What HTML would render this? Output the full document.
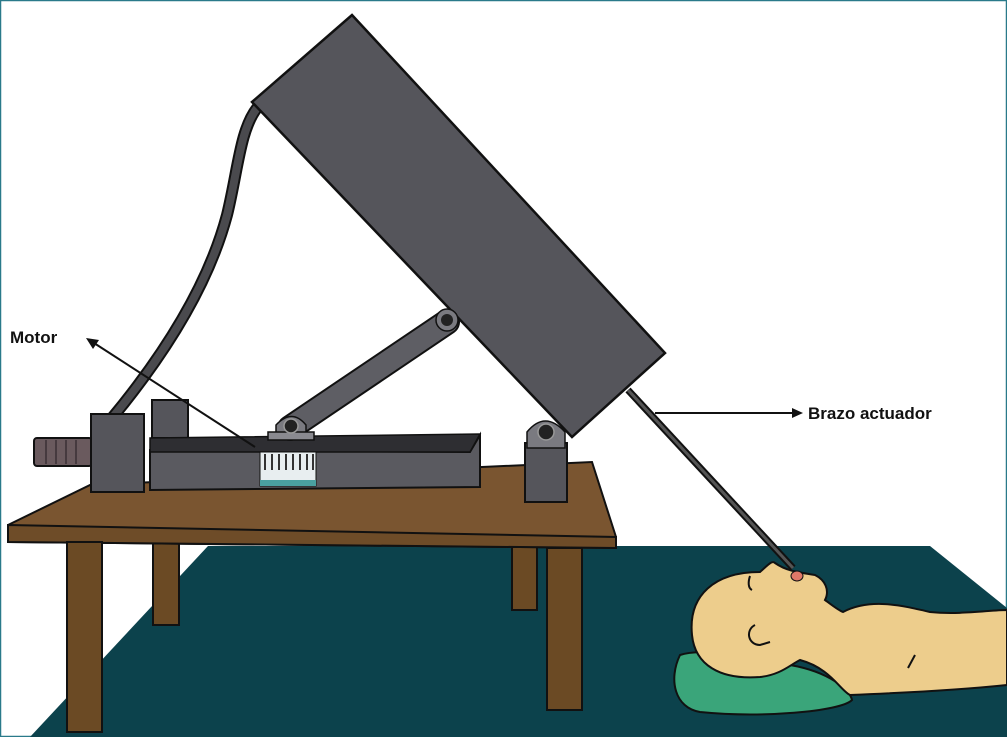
<!DOCTYPE html>
<html><head><meta charset="utf-8"><style>
html,body{margin:0;padding:0;background:#fff;}
svg{display:block;}
</style></head><body>
<svg width="1007" height="737" viewBox="0 0 1007 737" xmlns="http://www.w3.org/2000/svg">
<rect x="0.5" y="0.5" width="1006" height="736" fill="#fff" stroke="#2a7a8a" stroke-width="1.5"/>
<!-- floor -->
<polygon points="208,546 930,546 1007,608 1007,737 30,737" fill="#0c424c"/>
<!-- back legs -->
<rect x="153" y="535" width="26" height="90" fill="#6b4a24" stroke="#111" stroke-width="2"/>
<rect x="512" y="535" width="25" height="75" fill="#6b4a24" stroke="#111" stroke-width="2"/>
<!-- table top -->
<polygon points="8,525 90,485 592,462 616,537 616,548 8,542" fill="#7a5530" stroke="#111" stroke-width="2"/>
<polygon points="8,525 616,537 616,548 8,542" fill="#6e4c28" stroke="#111" stroke-width="2"/>
<!-- front legs -->
<rect x="67" y="542" width="35" height="190" fill="#6b4a24" stroke="#111" stroke-width="2"/>
<rect x="547" y="548" width="35" height="162" fill="#6b4a24" stroke="#111" stroke-width="2"/>
<!-- cable -->
<path d="M257,108 C240,130 238,170 227,215 C207,290 160,360 112,418" fill="none" stroke="#111" stroke-width="12" stroke-linecap="round"/>
<path d="M257,108 C240,130 238,170 227,215 C207,290 160,360 112,418" fill="none" stroke="#4a4a4e" stroke-width="8" stroke-linecap="round"/>
<!-- rod -->
<line x1="628" y1="390" x2="793" y2="568" stroke="#111" stroke-width="7"/>
<line x1="628" y1="390" x2="793" y2="568" stroke="#555" stroke-width="3"/>
<!-- cylinder -->
<rect x="34" y="438" width="58" height="28" rx="3" fill="#6a5a5e" stroke="#111" stroke-width="2"/>
<g stroke="#3a3035" stroke-width="1.5"><line x1="46" y1="440" x2="46" y2="464"/><line x1="56" y1="440" x2="56" y2="464"/><line x1="66" y1="440" x2="66" y2="464"/><line x1="76" y1="440" x2="76" y2="464"/></g>
<!-- small box -->
<rect x="152" y="400" width="36" height="38" fill="#55555b" stroke="#111" stroke-width="2"/>
<!-- rail -->
<polygon points="150,450 470,452 480,435 480,487 150,490" fill="#5a5a60" stroke="#111" stroke-width="2"/>
<polygon points="150,438 480,434 470,452 150,452" fill="#2e2e32" stroke="#111" stroke-width="1.5"/>
<!-- left block -->
<rect x="91" y="414" width="53" height="78" fill="#55555b" stroke="#111" stroke-width="2"/>
<!-- gear -->
<rect x="260" y="452" width="56" height="34" fill="#e8eef0" stroke="#111" stroke-width="1"/>
<g stroke="#333" stroke-width="2"><line x1="265" y1="454" x2="265" y2="470"/><line x1="272" y1="454" x2="272" y2="470"/><line x1="279" y1="454" x2="279" y2="470"/><line x1="286" y1="454" x2="286" y2="470"/><line x1="293" y1="454" x2="293" y2="470"/><line x1="300" y1="454" x2="300" y2="470"/><line x1="307" y1="454" x2="307" y2="470"/><line x1="313" y1="454" x2="313" y2="470"/></g>
<rect x="260" y="480" width="56" height="6" fill="#4aa0a0"/>
<!-- linkage -->
<line x1="290" y1="428" x2="447" y2="322" stroke="#111" stroke-width="26" stroke-linecap="round"/>
<line x1="290" y1="428" x2="447" y2="322" stroke="#5e5e64" stroke-width="22" stroke-linecap="round"/>
<path d="M276,438 L276,425 Q292,408 306,425 L306,438 Z" fill="#7a7a80" stroke="#111" stroke-width="1.5"/>
<rect x="268" y="432" width="46" height="8" fill="#8a8a90" stroke="#111" stroke-width="1.5"/>
<circle cx="291" cy="426" r="7" fill="#222" stroke="#999" stroke-width="1.5"/>
<!-- post -->
<rect x="525" y="443" width="42" height="59" fill="#55555b" stroke="#111" stroke-width="2"/>
<!-- big box -->
<polygon points="252,102 352,15 665,353 572,437" fill="#55555b" stroke="#111" stroke-width="2.5"/>
<circle cx="447" cy="320" r="11" fill="#7a7a80" stroke="#111" stroke-width="1.5"/>
<circle cx="447" cy="320" r="6" fill="#222"/>
<path d="M527,448 L527,432 Q545,410 565,432 L565,448 Z" fill="#7a7a80" stroke="#111" stroke-width="1.5"/>
<circle cx="546" cy="432" r="8" fill="#222" stroke="#999" stroke-width="1.5"/>
<!-- pillow -->
<path d="M680,655 C700,648 740,655 790,665 C830,672 850,690 852,700 C840,712 760,718 700,712 C675,708 668,680 680,655 Z" fill="#3aa57a" stroke="#111" stroke-width="2"/>
<!-- person -->
<path d="M692,635 C688,595 715,572 760,572 C768,565 772,560 775,563 C785,570 795,572 815,575 C825,580 830,590 825,600 C832,605 838,610 843,612 C870,598 900,605 930,612 C960,615 990,610 1007,610 L1007,685 C960,690 900,693 850,695 C840,690 830,668 800,660 C790,665 780,675 760,677 C720,680 695,665 692,635 Z" fill="#edcd8c" stroke="#111" stroke-width="2"/>
<path d="M755,625 C745,630 748,645 760,645 L770,642" fill="none" stroke="#111" stroke-width="2"/>
<path d="M915,655 L908,668" stroke="#111" stroke-width="2"/>
<path d="M750,576 C748,582 748,588 752,590" fill="none" stroke="#111" stroke-width="2"/>
<ellipse cx="797" cy="576" rx="6" ry="5" fill="#e07868" stroke="#111" stroke-width="1"/>
<!-- labels -->
<g stroke="#111" stroke-width="2">
<line x1="255" y1="447" x2="94" y2="343"/>
<line x1="655" y1="413" x2="795" y2="413"/>
</g>
<polygon points="86,338 99,340 93,349" fill="#111"/>
<polygon points="803,413 792,408 792,418" fill="#111"/>
<text x="10" y="343" font-family="Liberation Sans, sans-serif" font-weight="bold" font-size="17" fill="#111">Motor</text>
<text x="808" y="419" font-family="Liberation Sans, sans-serif" font-weight="bold" font-size="17" fill="#111">Brazo actuador</text>
</svg>
</body></html>
